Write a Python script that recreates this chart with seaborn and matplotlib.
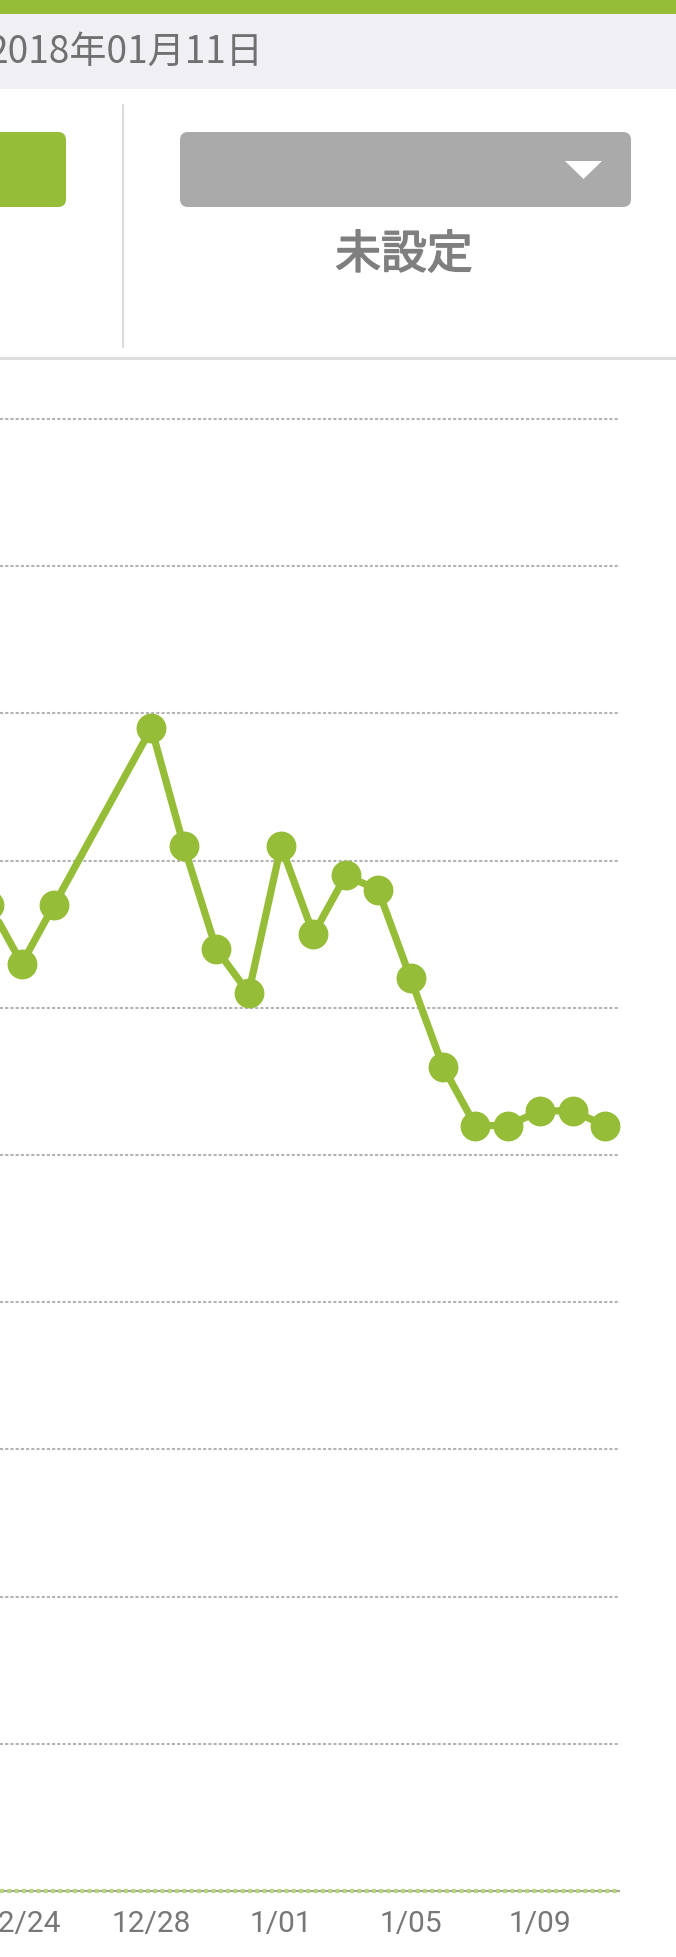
import numpy as np
import pandas as pd
import matplotlib
matplotlib.use("Agg")
import matplotlib.pyplot as plt
import matplotlib.patheffects as pe
import seaborn as sns
from matplotlib.patches import Rectangle, FancyBboxPatch, Polygon

# data (one unit = one grid step)
dates = ['2017-12-23', '2017-12-24', '2017-12-25', '2017-12-28', '2017-12-29',
         '2017-12-30', '2017-12-31', '2018-01-01', '2018-01-02', '2018-01-03',
         '2018-01-04', '2018-01-05', '2018-01-06', '2018-01-07', '2018-01-08',
         '2018-01-09', '2018-01-10', '2018-01-11']
values = [6.7, 6.3, 6.7, 7.9, 7.1, 6.4, 6.1, 7.1, 6.5, 6.9,
          6.8, 6.2, 5.6, 5.2, 5.2, 5.3, 5.3, 5.2]
tick_dates = ['2017-12-24', '2017-12-28', '2018-01-01', '2018-01-05', '2018-01-09']
tick_labels = ['12/24', '12/28', '1/01', '1/05', '1/09']
grid_levels = np.arange(1, 11)
date_title = '2018年01月11日'
status_text = '未設定'

GREEN = '#95bd37'
W, H = 676, 1957

sns.set_theme(style='white')
plt.rcParams['font.family'] = ['Noto Sans CJK JP', 'DejaVu Sans']

ref = pd.Timestamp('2018-01-01')
df = pd.DataFrame({'date': pd.to_datetime(dates), 'value': values})
df['day'] = (df['date'] - ref).dt.days
tick_days = [(pd.Timestamp(d) - ref).days for d in tick_dates]

fig = plt.figure(figsize=(W / 100, H / 100), dpi=100)
fig.patch.set_facecolor('white')

# header drawn in pixel space
ui = fig.add_axes([0, 0, 1, 1], zorder=0)
ui.set_xlim(0, W)
ui.set_ylim(H, 0)
ui.axis('off')
ui.add_patch(Rectangle((0, 0), W, 14, color=GREEN, lw=0))
ui.add_patch(Rectangle((0, 14), W, 75, color='#efeff4', lw=0))
ui.text(-12, 52, date_title, fontsize=26.7, color='#707070', va='center', ha='left')
ui.add_patch(FancyBboxPatch((-40, 132), 106, 75, boxstyle='round,pad=0,rounding_size=8',
                            color=GREEN, lw=0))
ui.plot([123, 123], [105, 347], color='#dddddd', lw=1.6)
ui.add_patch(FancyBboxPatch((180, 132), 451, 75, boxstyle='round,pad=0,rounding_size=8',
                            color='#aaaaaa', lw=0))
ui.add_patch(Polygon([[565, 161], [602, 161], [583.5, 179]], color='white', lw=0))
ui.text(404, 255, status_text, fontsize=33, color='#7f7f7f', ha='center', va='center',
        path_effects=[pe.withStroke(linewidth=1.1, foreground='#7f7f7f')])
ui.plot([0, W], [358, 358], color='#dddddd', lw=2.2)

# chart
px_day, px_unit = 32.4, 147.2
x0_px, base_px = 281, 1891
ax_bottom_px, ax_top_px = 1900, 380
ax = fig.add_axes([0, (H - ax_bottom_px) / H, 1, (ax_bottom_px - ax_top_px) / H], zorder=1)
ax.set_facecolor('none')
ax.set_xlim(-x0_px / px_day, (W - x0_px) / px_day)
ax.set_ylim(-(ax_bottom_px - base_px) / px_unit, (base_px - ax_top_px) / px_unit)

grid_end = df['day'].max() + 0.46
ax.hlines(grid_levels, ax.get_xlim()[0], grid_end, colors='#b4b4b4',
          linestyles=(0, (1.5, 1.0)), lw=1.5, zorder=1)
ax.hlines(0, ax.get_xlim()[0], grid_end, colors='#8f8f8f', lw=1.2, zorder=1)
ax.hlines(0, ax.get_xlim()[0], grid_end, colors='#b7d67c',
          linestyles=(0, (1.0, 0.75)), lw=3.0, zorder=2)

sns.lineplot(data=df, x='day', y='value', ax=ax, color=GREEN, lw=5.2,
             marker='o', markersize=21.5, markeredgewidth=0, zorder=3)

for s in ax.spines.values():
    s.set_visible(False)
ax.set_yticks([])
ax.set_xticks(tick_days)
ax.set_xticklabels(tick_labels, fontfamily='Roboto', fontsize=21.5, color='#777777')
ax.tick_params(axis='x', length=0, pad=7)
ax.set_xlabel('')
ax.set_ylabel('')

fig.savefig('out.png', dpi=100)
